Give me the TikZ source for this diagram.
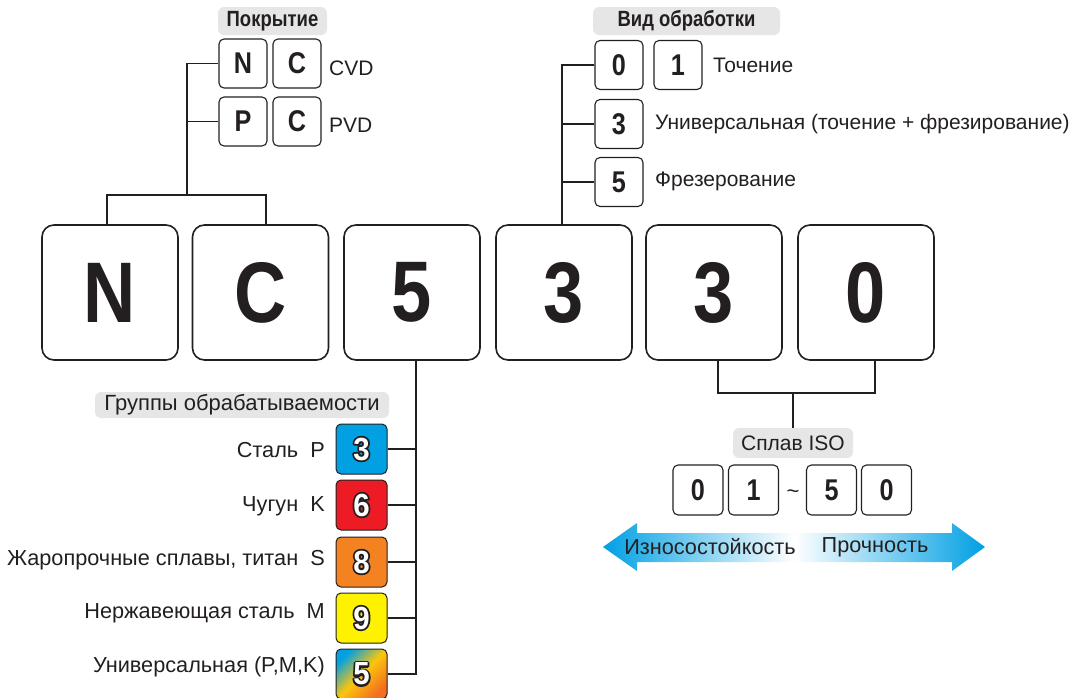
\documentclass[tikz,border=0pt]{standalone}
\usepackage{fontspec}
\setmainfont{Liberation Sans}
\newfontfamily\condb{Liberation Sans}[FakeStretch=0.84]
\newfontfamily\digb{Liberation Sans}[FakeStretch=0.92]
\usetikzlibrary{calc}
\definecolor{cyanb}{RGB}{0,160,227}
\definecolor{redb}{RGB}{237,28,36}
\definecolor{orangeb}{RGB}{245,130,32}
\definecolor{yellowb}{RGB}{255,242,0}
\definecolor{lbl}{RGB}{230,230,230}
\definecolor{ink}{RGB}{35,31,32}
\newcommand{\outl}[1]{\rlap{\special{pdf:code q 0.137 0.122 0.125 RG 1 Tr 3.6 w 1 j}#1\special{pdf:code Q}}\color{white}#1}
\begin{document}
\begin{tikzpicture}[x=1pt,y=-1pt,
  bigbox/.style={draw=ink, line width=1.6pt, rounded corners=12pt, minimum width=136pt, minimum height=135pt, inner sep=0pt, text=ink, font=\condb\bfseries\fontsize{86}{86}\selectfont},
  midbox/.style={draw=ink, line width=1.1pt, rounded corners=5pt, minimum width=48pt, minimum height=49pt, inner sep=0pt, text=ink, font=\condb\bfseries\fontsize{30}{30}\selectfont},
  colbox/.style={draw=ink, line width=1pt, rounded corners=5pt, minimum width=51pt, minimum height=50pt, inner sep=0pt, text=white, font=\digb\bfseries\fontsize{32}{32}\selectfont},
  glabel/.style={fill=lbl, rounded corners=6pt, inner sep=0pt, text=ink},
  txt/.style={inner sep=0pt, text=ink, font=\fontsize{21}{21}\selectfont},
  gtxt/.style={inner sep=0pt, text=ink, font=\fontsize{21.7}{21.7}\selectfont},
  conn/.style={draw=ink, line width=1.3pt}
]
\useasboundingbox (0,0) rectangle (1074,697);

% big boxes
\node[bigbox] (b1) at (110,292.5) {N};
\node[bigbox] (b2) at (260.5,292.5) {C};
\node[bigbox] (b3) at (412,292.5) {5};
\node[bigbox] (b4) at (564,292.5) {3};
\node[bigbox] (b5) at (714,292.5) {3};
\node[bigbox] (b6) at (866,292.5) {0};

% coating
\node[glabel, minimum width=109pt, minimum height=28pt, font=\condb\bfseries\fontsize{22}{22}\selectfont] (lc) at (272.5,21) {Покрытие};
\node[midbox] (s1) at (243,63.5) {N};
\node[midbox] (s2) at (297,63.5) {C};
\node[midbox] (s3) at (243,121.5) {P};
\node[midbox] (s4) at (297,121.5) {C};
\node[txt, anchor=west] (tcvd) at (329,68) {CVD};
\node[txt, anchor=west] (tpvd) at (329,125) {PVD};
\coordinate (j1) at (187,195);
\draw[conn] ($(b1.north)+(-3,0)$) |- (j1) -| ($(b2.north)+(5.5,0)$);
\draw[conn] (j1) |- (s1.west);
\draw[conn] (s3.west) -- (s3.west -| j1);

% machining type
\node[glabel, minimum width=187pt, minimum height=28pt, font=\condb\bfseries\fontsize{22}{22}\selectfont] (lv) at (686.5,21) {Вид обработки};
\node[midbox] (v0) at (619,65) {0};
\node[midbox] (v1) at (678,65) {1};
\node[midbox] (v3) at (619,124) {3};
\node[midbox] (v5) at (619,182) {5};
\node[txt, anchor=west] (tv1) at (713,65) {Точение};
\node[txt, anchor=west] (tv3) at (655,124) {Универсальная (точение + фрезирование)};
\node[txt, anchor=west] (tv5) at (655,181) {Фрезерование};
\coordinate (vt) at ($(b4.north)+(-2,0)$);
\draw[conn] (vt) |- (v0.west);
\draw[conn] (v3.west) -- (v3.west -| vt);
\draw[conn] (v5.west) -- (v5.west -| vt);

% machinability groups
\node[glabel, minimum width=294pt, minimum height=26pt, font=\fontsize{22}{22}\selectfont] (lg) at (242,405) {Группы обрабатываемости};
\node[colbox, fill=cyanb] (c3) at (361.5,449) {\outl{3}};
\node[colbox, fill=redb] (c6) at (361.5,505) {\outl{6}};
\node[colbox, fill=orangeb] (c8) at (361.5,562) {\outl{8}};
\node[colbox, fill=yellowb] (c9) at (361.5,618) {\outl{9}};
\node[colbox, top color=cyanb, bottom color=orangeb!80!redb, middle color=yellowb!60!orangeb, shading angle=45] (c5) at (361.5,674) {\outl{5}};
\node[gtxt, anchor=east] (g1) at (325,450) {Сталь\ \ P};
\node[gtxt, anchor=east] (g2) at (325,506) {Чугун\ \ K};
\node[gtxt, anchor=east] (g3) at (325,560) {Жаропрочные сплавы, титан\ \ S};
\node[gtxt, anchor=east] (g4) at (325,613) {Нержавеющая сталь\ \ M};
\node[gtxt, anchor=east] (g5) at (325,667) {Универсальная (P,M,K)};
\coordinate (vb) at (416,360);
\draw[conn] (vb) |- (c5.east);
\draw[conn] (c3.east) -- (c3.east -| vb);
\draw[conn] (c6.east) -- (c6.east -| vb);
\draw[conn] (c8.east) -- (c8.east -| vb);
\draw[conn] (c9.east) -- (c9.east -| vb);

% ISO grade
\node[glabel, minimum width=120pt, minimum height=30pt, font=\fontsize{21}{21}\selectfont] (li) at (793,443) {Сплав ISO};
\coordinate (j2) at (793,393);
\draw[conn] ($(b5.south)+(4,0)$) |- (j2) -| ($(b6.south)+(9,0)$);
\draw[conn] (j2) -- (li.north);
\node[midbox, minimum width=50pt, minimum height=50pt] (i1) at (698,490) {0};
\node[midbox, minimum width=50pt, minimum height=50pt] (i2) at (753.5,490) {1};
\node[inner sep=0pt, text=ink, font=\fontsize{22}{22}\selectfont] (tl) at (793,494) {\char"007E};
\node[midbox, minimum width=50pt, minimum height=50pt] (i3) at (831.5,490) {5};
\node[midbox, minimum width=50pt, minimum height=50pt] (i4) at (886.5,490) {0};

% double arrow
\shade[left color=cyanb, right color=cyanb, middle color=white]
  (603,547) -- (637,523) -- (637,533) -- (952,533) -- (952,523) -- (985,547)
  -- (952,571) -- (952,562) -- (637,562) -- (637,571) -- cycle;
\node[gtxt] (aw) at (710,547) {Износостойкость};
\node[gtxt] (at) at (875,547) {Прочность};
\end{tikzpicture}
\end{document}
